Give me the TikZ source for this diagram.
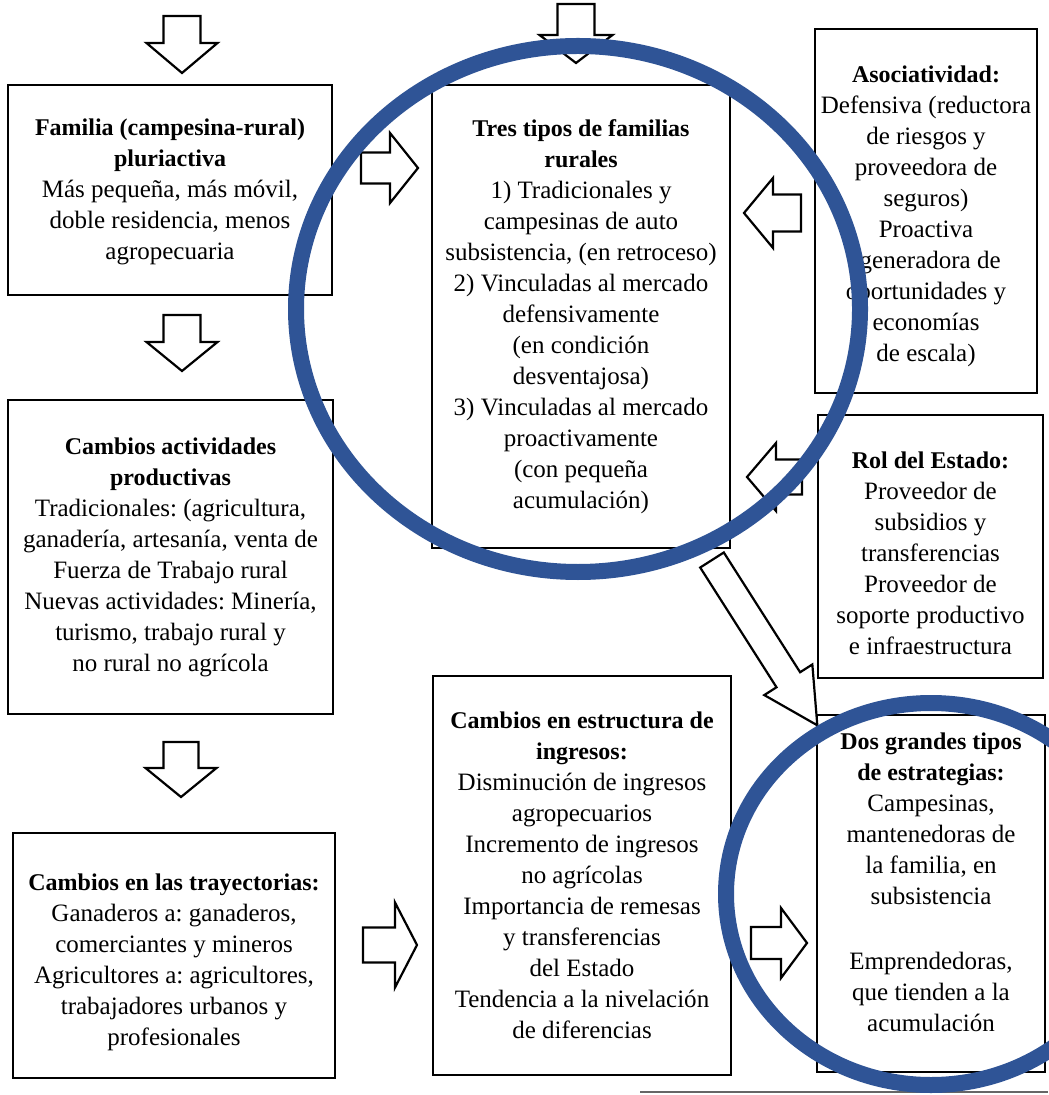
\documentclass[tikz,border=0pt]{standalone}
\usepackage{fontspec}
\setmainfont{Liberation Serif}
\frenchspacing
\definecolor{circblue}{RGB}{47,84,150}
\newcommand\hd[1]{{\fontsize{12}{15.5}\selectfont\bfseries #1}}
\tikzset{
  box/.style={draw, line width=1.2pt, inner sep=0pt},
  txt/.style={align=center, inner sep=0pt, font=\fontsize{12.5}{15.5}\selectfont\frenchspacing},
  blockarrow/.style={draw, line width=1.1pt, fill=white, line join=miter},
  ring/.style={draw=circblue, line width=8pt},
}
% x y angle length shaftwidth headwidth headlength
\newcommand\barrow[7]{%
  \draw[blockarrow, shift={(#1,#2)}, rotate=#3]
    (0,{-#5/2}) -- ({#4-#7},{-#5/2}) -- ({#4-#7},{-#6/2}) -- (#4,0)
    -- ({#4-#7},{#6/2}) -- ({#4-#7},{#5/2}) -- (0,{#5/2}) -- cycle;}
\begin{document}
\begin{tikzpicture}[x=0.5pt,y=-0.5pt]
\useasboundingbox (0,0) rectangle (1048,1095);
\fill[white] (0,0) rectangle (1048,1095);

% boxes
\node[box, minimum width=162pt, minimum height=105pt] (fam) at (170,190) {};
\node[box, minimum width=149pt, minimum height=231.5pt] (tres) at (581,316.5) {};
\node[box, minimum width=111pt, minimum height=182pt] (asoc) at (926,211) {};
\node[box, minimum width=112.5pt, minimum height=131.5pt] (rol) at (930.5,546.5) {};
\node[box, minimum width=162.5pt, minimum height=157pt] (act) at (170.5,557) {};
\node[box, minimum width=161pt, minimum height=122.5pt] (tray) at (174,955.5) {};
\node[box, minimum width=149pt, minimum height=199.5pt] (ingr) at (582,875.5) {};
\node[box, minimum width=114pt, minimum height=178.5pt] (dos) at (931,893.5) {};

% texts
\node[txt, yshift=-1pt] (fam-t) at (fam.center)
  {\hd{Familia (campesina-rural)}\\ \hd{pluriactiva}\\ Más pequeña, más móvil,\\ doble residencia, menos\\ agropecuaria};
\node[txt] (tres-t) at (tres.center)
  {\hd{Tres tipos de familias}\\ \hd{rurales}\\ 1) Tradicionales y\\ campesinas de auto\\ subsistencia, (en retroceso)\\ 2) Vinculadas al mercado\\ defensivamente\\ (en condición\\ desventajosa)\\ 3) Vinculadas al mercado\\ proactivamente\\ (con pequeña\\ acumulación)};
\node[txt, yshift=-2.5pt] (asoc-t) at (asoc.center)
  {\hd{Asociatividad:}\\ Defensiva (reductora\\ de riesgos y\\ proveedora de\\ seguros)\\ Proactiva\\ (generadora de\\ oportunidades y\\ economías\\ de escala)};
\node[txt, yshift=-3.5pt] (rol-t) at (rol.center)
  {\hd{Rol del Estado:}\\ Proveedor de\\ subsidios y\\ transferencias\\ Proveedor de\\ soporte productivo\\ e infraestructura};
\node[txt] (act-t) at (act.center)
  {\hd{Cambios actividades}\\ \hd{productivas}\\ Tradicionales: (agricultura,\\ ganadería, artesanía, venta de\\ Fuerza de Trabajo rural\\ Nuevas actividades: Minería,\\ turismo, trabajo rural y\\ no rural no agrícola};
\node[txt, yshift=-3.5pt] (tray-t) at (tray.center)
  {\hd{Cambios en las trayectorias:}\\ Ganaderos a: ganaderos,\\ comerciantes y mineros\\ Agricultores a: agricultores,\\ trabajadores urbanos y\\ profesionales};
\node[txt] (ingr-t) at (ingr.center)
  {\hd{Cambios en estructura de}\\ \hd{ingresos:}\\ Disminución de ingresos\\ agropecuarios\\ Incremento de ingresos\\ no agrícolas\\ Importancia de remesas\\ y transferencias\\ del Estado\\ Tendencia a la nivelación\\ de diferencias};
\node[txt, yshift=5.5pt] (dos-t) at (dos.center)
  {\hd{Dos grandes tipos}\\ \hd{de estrategias:}\\ Campesinas,\\ mantenedoras de\\ la familia, en\\ subsistencia\\[17pt] Emprendedoras,\\ que tienden a la\\ acumulación};

% block arrows
\barrow{182}{16}{-90}{57}{37}{71}{30}
\barrow{576}{4}{-90}{59}{37}{73}{28}
\barrow{182}{315}{-90}{56}{37}{71}{29}
\barrow{181}{742}{-90}{55}{35}{71}{29}
\barrow{361}{168}{0}{57}{31}{70}{28}
\barrow{801}{213}{180}{57}{37}{70}{29}
\barrow{802}{477}{180}{55}{35}{68}{29}
\barrow{363}{945}{0}{54}{35}{85}{22}
\barrow{751}{943}{0}{56}{32}{70}{26}
\barrow{712}{560}{-57.5}{196}{28}{57}{54}

% scan line at bottom
\draw[black!60, line width=0.6pt] (640,1092) -- (1048,1092);

% blue rings
\draw[ring] (578,309) ellipse [x radius=282, y radius=263];
\draw[ring] (931,894) ellipse [x radius=205, y radius=191];
\end{tikzpicture}
\end{document}
